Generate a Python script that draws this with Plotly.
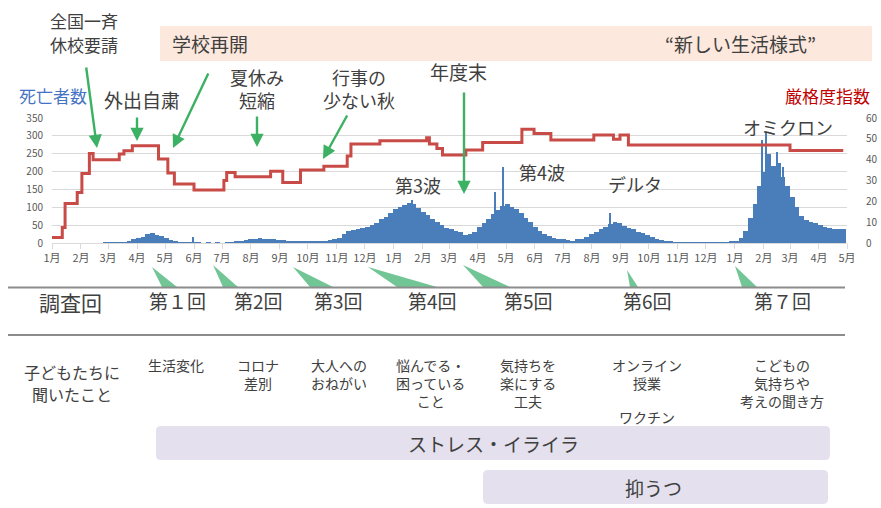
import pandas as pd
import plotly.graph_objects as go

FONT = "Noto Sans CJK JP"
TXT = "#404040"

# ---------------- data ----------------
# daily deaths (left axis), sampled every 5 days from 2020-01-01
deaths = [
    0, 0, 0, 0, 0, 0, 0, 0, 0, 0,
    0, 1, 1, 1, 1, 2, 5, 10, 14, 18,
    24, 27, 23, 20, 15, 9, 4, 2, 1, 1,
    2, 1, 0, 1, 0, 1, 0, 1, 1, 3,
    5, 8, 10, 12, 14, 12, 11, 10, 9, 8,
    6, 5, 5, 6, 5, 6, 5, 6, 7, 8,
    12, 15, 25, 33, 36, 38, 42, 45, 50, 55,
    66, 74, 84, 94, 100, 106, 112, 108, 98, 88,
    78, 68, 58, 50, 42, 38, 34, 30, 22, 25,
    30, 44, 55, 68, 80, 92, 104, 108, 100, 94,
    84, 70, 58, 45, 35, 25, 20, 15, 12, 10,
    8, 7, 10, 12, 16, 24, 30, 38, 45, 54,
    60, 55, 48, 42, 38, 32, 27, 22, 17, 12,
    8, 5, 3, 2, 2, 1, 1, 1, 1, 1,
    1, 1, 1, 1, 2, 3, 5, 15, 35, 70,
    110, 160, 200, 250, 215, 225, 185, 160, 130, 100,
    75, 65, 60, 55, 50, 45, 42, 40, 38, 40,
]
death_dates = pd.date_range("2020-01-01", periods=len(deaths), freq="5D")

# notable single-day spikes
spike_dates = ["2020-05-31", "2021-01-21", "2021-04-19", "2021-04-28",
               "2021-08-20", "2022-01-30", "2022-02-03", "2022-02-15", "2022-02-22"]
spike_vals = [17, 120, 144, 214, 83, 288, 311, 256, 213]

# stringency index (right axis), step changes
str_dates = ["2020-01-01", "2020-01-12", "2020-01-15", "2020-01-28", "2020-02-02",
             "2020-02-10", "2020-02-14", "2020-03-13", "2020-03-18", "2020-03-27",
             "2020-04-24", "2020-05-04", "2020-05-11", "2020-06-01", "2020-07-03",
             "2020-07-06", "2020-07-15", "2020-08-22", "2020-09-04", "2020-09-23",
             "2020-10-18", "2020-11-12", "2020-11-16", "2020-12-17", "2021-02-05",
             "2021-02-08", "2021-02-16", "2021-02-22", "2021-03-19", "2021-04-06",
             "2021-05-18", "2021-05-31", "2021-06-18", "2021-08-03", "2021-08-24",
             "2021-08-31", "2021-09-09", "2022-03-01", "2022-04-27"]
str_vals = [2.6, 7.4, 19, 24.2, 33.4,
            43, 40, 42.7, 44.3, 46.7,
            40.3, 33.6, 28.3, 25.4, 30,
            33.8, 31.8, 34.4, 29, 35,
            36.8, 41.8, 47.5, 49.1, 50.5,
            47.5, 45.4, 42.2, 44.6, 48.2,
            54.6, 52.6, 49.4, 51.8, 49.8,
            51.8, 47, 44.4, 44.4]

month_ticks = ["1月", "2月", "3月", "4月", "5月", "6月", "7月", "8月", "9月", "10月", "11月", "12月",
               "1月", "2月", "3月", "4月", "5月", "6月", "7月", "8月", "9月", "10月", "11月", "12月",
               "1月", "2月", "3月", "4月", "5月"]
tick_dates = pd.date_range("2020-01-01", periods=len(month_ticks), freq="MS")

left_ticks = [0, 50, 100, 150, 200, 250, 300, 350]
right_ticks = [0, 10, 20, 30, 40, 50, 60]

rounds = ["第１回", "第2回", "第3回", "第4回", "第5回", "第6回", "第７回"]
topics = ["生活変化", "コロナ<br>差別", "大人への<br>おねがい", "悩んでる・<br>困っている<br>こと",
          "気持ちを<br>楽にする<br>工夫", "オンライン<br>授業", "こどもの<br>気持ちや<br>考えの聞き方"]

# ---------------- geometry helpers ----------------
X0, X1, YT, YB = 52, 847, 118, 243
def px(x):
    return (x - X0) / (X1 - X0)
def py(y):
    return (YB - y) / (YB - YT)

ann = []
shapes = []

def text(x, y, s, size, color=TXT, xanchor="center", yanchor="middle"):
    ann.append(dict(x=px(x), y=py(y), xref="paper", yref="paper", text=s, showarrow=False,
                    font=dict(size=size, color=color, family=FONT),
                    xanchor=xanchor, yanchor=yanchor, align="center"))

def arrow(x_tail, y_tail, x_tip, y_tip):
    ann.append(dict(x=px(x_tip), y=py(y_tip), xref="paper", yref="paper", text="",
                    showarrow=True, ax=x_tail - x_tip, ay=y_tail - y_tip,
                    arrowhead=2, arrowsize=1.1, arrowwidth=2.4, arrowcolor="#3cb063"))

def poly(pts, color):
    d = "M " + " L ".join(f"{px(a):.5f},{py(b):.5f}" for a, b in pts) + " Z"
    shapes.append(dict(type="path", path=d, xref="paper", yref="paper",
                       fillcolor=color, line=dict(width=0)))

def rrect(x0, y0, x1, y1, r, color):
    d = (f"M {px(x0+r)},{py(y0)} L {px(x1-r)},{py(y0)} Q {px(x1)},{py(y0)} {px(x1)},{py(y0+r)} "
         f"L {px(x1)},{py(y1-r)} Q {px(x1)},{py(y1)} {px(x1-r)},{py(y1)} "
         f"L {px(x0+r)},{py(y1)} Q {px(x0)},{py(y1)} {px(x0)},{py(y1-r)} "
         f"L {px(x0)},{py(y0+r)} Q {px(x0)},{py(y0)} {px(x0+r)},{py(y0)} Z")
    shapes.append(dict(type="path", path=d, xref="paper", yref="paper",
                       fillcolor=color, line=dict(width=0), layer="below"))

def hline(x0, x1, y):
    shapes.append(dict(type="line", x0=px(x0), x1=px(x1), y0=py(y), y1=py(y),
                       xref="paper", yref="paper", line=dict(color="#8c8c8c", width=2)))

# ---------------- figure ----------------
fig = go.Figure()
fig.add_trace(go.Bar(x=death_dates, y=deaths, width=5 * 86400000, offset=0,
                     marker=dict(color="#4a7ebb", line=dict(width=0)), showlegend=False))
fig.add_trace(go.Bar(x=pd.to_datetime(spike_dates), y=spike_vals, width=1.3 * 86400000,
                     marker=dict(color="#4a7ebb", line=dict(width=0)), showlegend=False))
fig.add_trace(go.Scatter(x=pd.to_datetime(str_dates), y=str_vals, yaxis="y2", mode="lines",
                         line=dict(color="#c84b47", width=3, shape="hv"), showlegend=False))

# top band
rrect(160, 26, 872, 61, 0, "#fce8dc")
text(170, 44, "学校再開", 19, xanchor="left")
text(740, 44, "“新しい生活様式”", 19)

# event labels + arrows
text(84, 20, "全国一斉", 17)
text(84, 45, "休校要請", 17)
arrow(86, 66, 97, 148)
text(142, 99, "外出自粛", 19)
arrow(137, 116, 137, 141)
arrow(209, 72, 173, 148)
text(257, 88, "夏休み<br>短縮", 18)
arrow(257, 115, 257, 147)
text(359, 88, "行事の<br>少ない秋", 18)
arrow(348, 114, 323, 159)
text(458, 71, "年度末", 19)
arrow(464, 91, 464, 194)

# axis titles
text(53, 95, "死亡者数", 17, color="#4472c4")
text(827, 95, "厳格度指数", 17, color="#c00000")

# wave labels
text(418, 185, "第3波", 18)
text(542, 172, "第4波", 18)
text(635, 184, "デルタ", 18)
text(788, 127, "オミクロン", 18)

# survey pointers
tri = [((152, 267), (162, 287), (177, 287)),
       ((213, 265), (223, 287), (238, 287)),
       ((293, 267), (310, 287), (333, 287)),
       ((368, 267), (397, 287), (437, 287)),
       ((463, 265), (483, 287), (510, 287)),
       ((627, 270), (630, 287), (638, 287)),
       ((735, 266), (742, 287), (757, 287))]
for t in tri:
    poly(t, "#72c595")

hline(8, 845, 287.5)
hline(8, 845, 335)

text(70, 302, "調査回", 21)
round_x = [177, 258, 338, 432, 528, 647, 782]
for rx, r in zip(round_x, rounds):
    text(rx, 300, r, 19)

# topics
text(72, 372, "子どもたちに", 16)
text(72, 394, "聞いたこと", 16)
topic_x = [176, 258, 339, 430, 528, 647, 782]
for tx, t in zip(topic_x, topics):
    text(tx, 353, t, 14, yanchor="top")
text(647, 417, "ワクチン", 14)

# bottom bands
rrect(156, 426, 830, 460, 5, "#e5e0ed")
text(493, 443, "ストレス・イライラ", 19)
rrect(483, 470, 828, 504, 5, "#e5e0ed")
text(653, 487, "抑うつ", 19)

fig.update_layout(
    width=881, height=508, autosize=False,
    margin=dict(l=X0, r=881 - X1, t=YT, b=508 - YB, pad=0),
    paper_bgcolor="white", plot_bgcolor="white",
    barmode="overlay", bargap=0,
    font=dict(family=FONT, color="#595959"),
    annotations=ann, shapes=shapes,
    xaxis=dict(type="date", range=["2020-01-01", "2022-05-01"], tickvals=tick_dates,
               ticktext=month_ticks, showgrid=False, showline=True, linecolor="#d9d9d9",
               ticks="outside", ticklen=5, tickcolor="#d9d9d9",
               tickfont=dict(size=11, color="#595959"), automargin=False, fixedrange=True),
    yaxis=dict(range=[0, 350], tickvals=left_ticks, showgrid=True, gridcolor="#d9d9d9",
               zeroline=False, showline=False, ticks="", ticklabelstandoff=8,
               tickfont=dict(size=10, color="#595959"), automargin=False),
    yaxis2=dict(range=[0, 60], tickvals=right_ticks, overlaying="y", side="right",
                showgrid=False, zeroline=False, showline=False, ticks="",
                ticklabelstandoff=18, tickfont=dict(size=10, color="#595959"),
                automargin=False),
)

fig.write_html("out.html", config={"displayModeBar": False},
               post_script="document.body.style.margin='0';")
